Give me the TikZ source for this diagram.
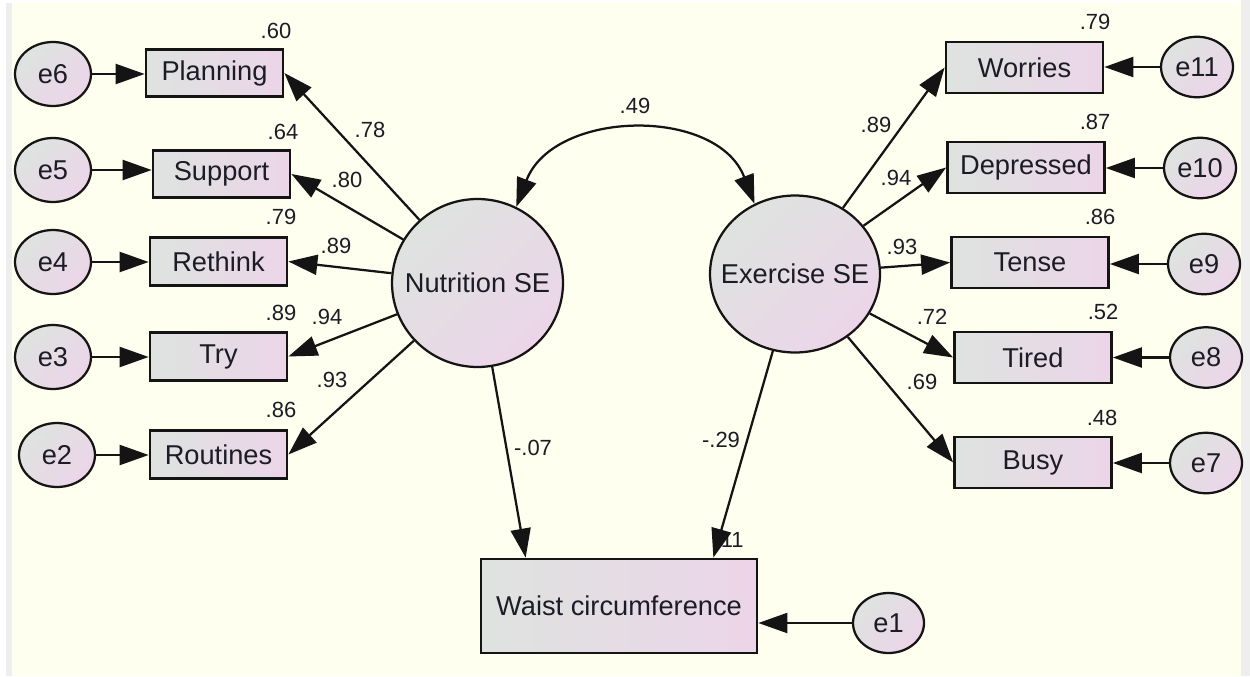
\documentclass[tikz,border=0pt]{standalone}
\usepackage{fontspec}
\setmainfont{Liberation Sans}
\usetikzlibrary{arrows.meta,shapes.geometric,calc}
\definecolor{paper}{HTML}{FEFFEF}
\definecolor{frame}{HTML}{EEEEEE}
\definecolor{shadeA}{HTML}{DEE3DF}
\definecolor{shadeB}{HTML}{ECD5E9}
\definecolor{ink}{HTML}{1C1C26}
\definecolor{stroke}{HTML}{141414}
\begin{document}
\begin{tikzpicture}[x=0.02cm,y=-0.02cm,
  bigtext/.style={font=\fontsize{15.5}{18}\selectfont, text=ink},
  obs/.style={bigtext, draw=stroke, line width=0.055cm, rectangle,
    left color=shadeA, right color=shadeB, inner sep=0pt},
  obsL/.style={obs, minimum width=2.74cm, minimum height=0.95cm},
  obsR/.style={obs, minimum width=3.14cm, minimum height=1.02cm},
  err/.style={bigtext, draw=stroke, line width=0.045cm, ellipse,
    top color=shadeA, bottom color=shadeB, shading angle=45, inner sep=0pt},
  errL/.style={err, minimum width=1.52cm, minimum height=1.28cm},
  errR/.style={err, minimum width=1.44cm, minimum height=1.21cm},
  lat/.style={draw=stroke, line width=0.045cm, ellipse,
    top color=shadeA, bottom color=shadeB, shading angle=45, inner sep=0pt,
    label={[bigtext, inner sep=0pt]center:#1}},
  arr/.style={draw=stroke, line width=0.045cm, -{Triangle[length=0.58cm,width=0.4cm]}},
  biarr/.style={draw=stroke, line width=0.045cm,
    {Triangle[length=0.58cm,width=0.4cm]}-{Triangle[length=0.58cm,width=0.4cm]}},
  coef/.style={font=\fontsize{12.5}{14}\selectfont, text=ink, inner sep=0pt}]

% page: white, grey side strips, cream drawing area
\useasboundingbox (0,0) rectangle (1250,676);
\fill[white] (0,0) rectangle (1250,676);
\fill[frame] (6,3) rectangle (12,676);
\fill[frame] (1241,0) rectangle (1250,676);
\fill[paper] (12,3) rectangle (1241,676);

% latent factors
\node[lat=Nutrition SE, minimum width=3.42cm, minimum height=3.36cm] (N) at (477.5,283) {};
\node[lat=Exercise SE, minimum width=3.40cm, minimum height=3.14cm] (E) at (795,274) {};

% nutrition indicators and their errors
\node[obsL] (plan) at (214.5,73)  {Planning};
\node[obsL] (supp) at (221.5,174) {Support};
\node[obsL] (reth) at (218.5,261.5) {Rethink};
\node[obsL] (try)  at (218.5,356.5) {Try};
\node[obsL] (rout) at (218.5,454.5) {Routines};

\node[errL] (e6) at (53,74)  {e6};
\node[errL] (e5) at (53,170) {e5};
\node[errL] (e4) at (53,262) {e4};
\node[errL] (e3) at (53,357) {e3};
\node[errL] (e2) at (57,455) {e2};

% exercise indicators and their errors
\node[obsR] (worr) at (1024.5,67.5) {Worries};
\node[obsR] (depr) at (1026,167.5) {Depressed};
\node[obsR] (tens) at (1030,262.5) {Tense};
\node[obsR] (tire) at (1033,357.5) {Tired};
\node[obsR] (busy) at (1033,462.5) {Busy};

\node[errR] (e11) at (1197,67)  {e11};
\node[errR] (e10) at (1200,168) {e10};
\node[errR] (e9)  at (1204,264) {e9};
\node[errR] (e8)  at (1206,357.5) {e8};
\node[errR] (e7)  at (1206,463) {e7};

% outcome
\node[obs, minimum width=5.52cm, minimum height=1.88cm] (W) at (619,606) {Waist circumference};
\node[errR, minimum width=1.42cm, minimum height=1.2cm] (e1) at (888.5,623) {e1};
\coordinate (wL) at ([xshift=0.92cm]W.north west);
\coordinate (wR) at ([xshift=-0.9cm]W.north east);

% squared multiple correlations
\node[coef] at (276,31)  {.60};
\node[coef] at (283,132) {.64};
\node[coef] at (281,217) {.79};
\node[coef] at (281,313) {.89};
\node[coef] at (281,410) {.86};
\node[coef] at (1095,22)  {.79};
\node[coef] at (1095,122) {.87};
\node[coef] at (1100,217) {.86};
\node[coef] at (1103,312) {.52};
\node[coef] at (1102,418) {.48};
\node[coef, anchor=east] at (744,540) {.11};

% loadings, covariance and regression weights
\node[coef] at (370,130) {.78};
\node[coef] at (347,180) {.80};
\node[coef] at (336,246) {.89};
\node[coef] at (327,317) {.94};
\node[coef] at (332,380) {.93};
\node[coef] at (876,125) {.89};
\node[coef] at (896,178) {.94};
\node[coef] at (902,247) {.93};
\node[coef] at (932,317) {.72};
\node[coef] at (922,382) {.69};
\node[coef] at (635,106) {.49};
\node[coef] at (533,448) {-.07};
\node[coef] at (721,440) {-.29};

% factor loadings
\draw[arr] (N) -- (plan.east);
\draw[arr] (N) -- (supp.east);
\draw[arr] (N) -- (reth.east);
\draw[arr] (N) -- (try.east);
\draw[arr] (N) -- (rout.east);
\draw[arr] (E) -- (worr.west);
\draw[arr] (E) -- (depr.west);
\draw[arr] (E) -- (tens.west);
\draw[arr] (E) -- (tire.west);
\draw[arr] (E) -- (busy.west);

% error terms
\draw[arr] (e6) -- (plan.west |- e6);
\draw[arr] (e5) -- (supp.west |- e5);
\draw[arr] (e4) -- (reth.west |- e4);
\draw[arr] (e3) -- (try.west |- e3);
\draw[arr] (e2) -- (rout.west |- e2);
\draw[arr] (e11) -- (worr.east |- e11);
\draw[arr] (e10) -- (depr.east |- e10);
\draw[arr] (e9) -- (tens.east |- e9);
\draw[arr] (e8) -- (tire.east |- e8);
\draw[arr] (e7) -- (busy.east |- e7);
\draw[arr] (e1) -- (W.east |- e1);

% structural paths
\draw[arr] (N) -- (wL);
\draw[arr] (E) -- (wR);

% factor covariance
\draw[biarr] (N.63) to[out=69,in=111,looseness=1.12] (E.120);
\end{tikzpicture}
\end{document}
